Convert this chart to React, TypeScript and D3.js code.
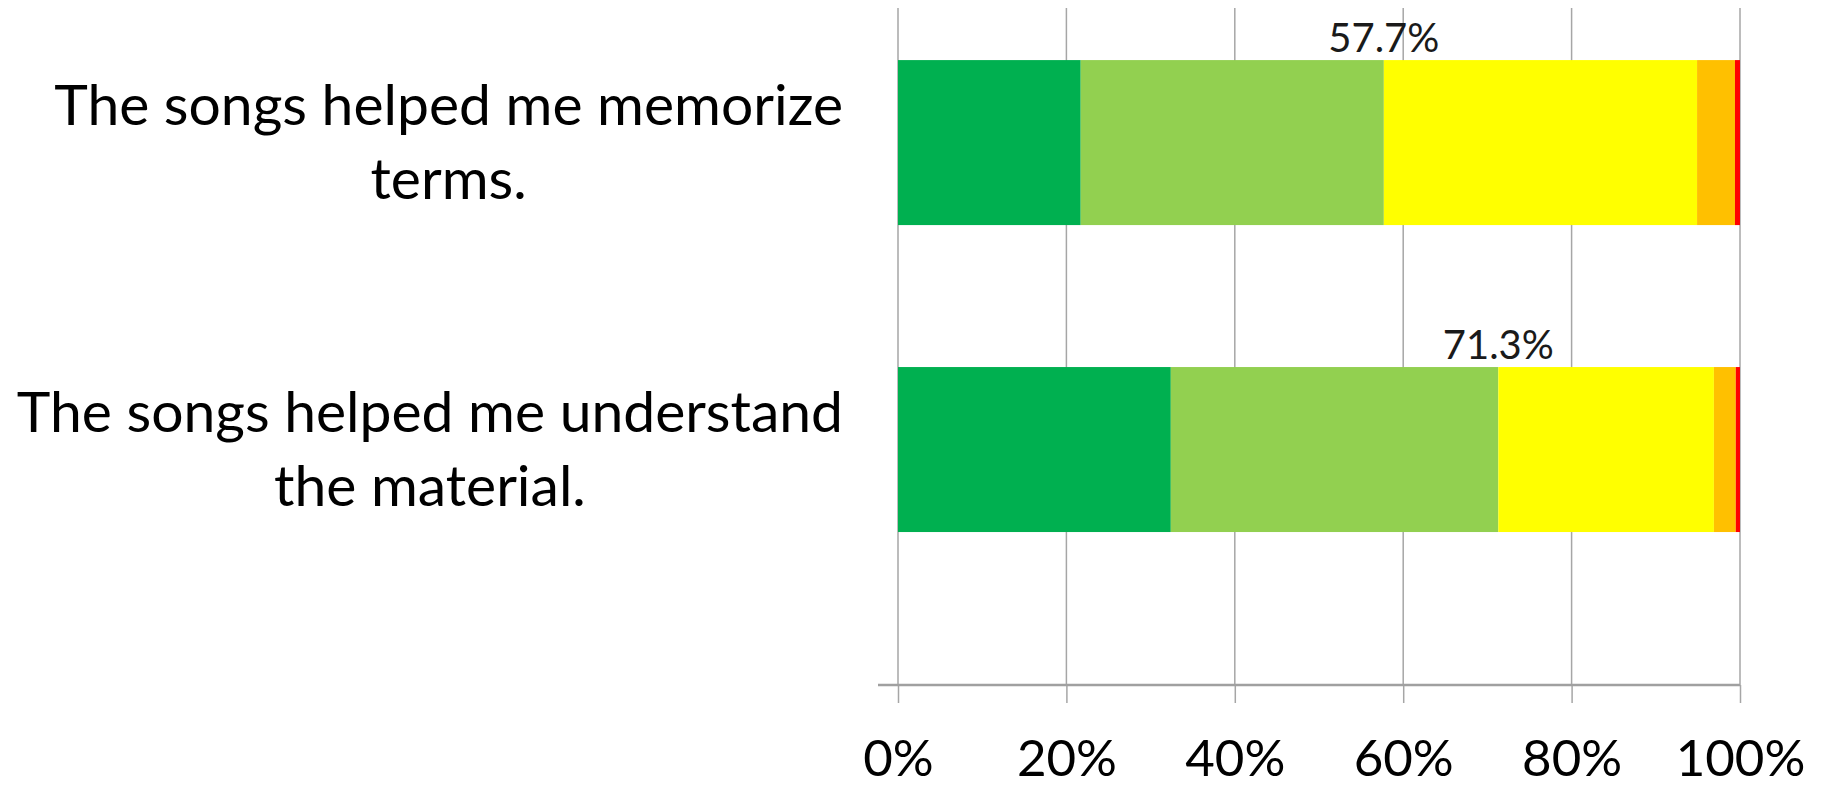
import { useEffect, useRef } from 'react';
import * as d3 from 'd3';

// survey statements (label lines)
const questions = [
  ['The songs helped me memorize', 'terms.'],
  ['The songs helped me understand', 'the material.'],
];
const questionKeys = ['memorize', 'understand'];

// response categories, left to right
const responses = ['Strongly agree', 'Agree', 'Neutral', 'Disagree', 'Strongly disagree'];
const responseColors = ['#00B050', '#92D050', '#FFFF00', '#FFC000', '#FF0000'];

// percentages per statement
const memorizeValues = [21.7, 36.0, 37.2, 4.5, 0.6];
const understandValues = [32.4, 38.9, 25.6, 2.6, 0.5];

// agree totals shown above the bars
const agreeLabels = ['57.7%', '71.3%'];

const xTicks = [0, 20, 40, 60, 80, 100];

export default function App() {
  const svgRef = useRef<SVGSVGElement>(null);

  useEffect(() => {
    if (!svgRef.current) return;

    const width = 1826;
    const height = 787;
    const plot = { left: 898, right: 1740, top: 8, bottom: 685 };

    const svg = d3.select(svgRef.current);
    svg.selectAll('*').remove();

    const rows = [memorizeValues, understandValues].map((vals, i) => {
      const row: any = { key: questionKeys[i] };
      responses.forEach((r, j) => (row[r] = vals[j]));
      return row;
    });

    const stacked = d3.stack().keys(responses)(rows);

    const x = d3.scaleLinear().domain([0, 100]).range([plot.left, plot.right]);

    const y = d3
      .scaleBand()
      .domain(questionKeys)
      .range([plot.top, plot.bottom])
      .paddingInner(0.4625)
      .paddingOuter(0.334)
      .align(0.254);

    // vertical gridlines
    svg
      .append('g')
      .selectAll('line')
      .data(xTicks)
      .enter()
      .append('line')
      .attr('x1', (d) => x(d))
      .attr('x2', (d) => x(d))
      .attr('y1', plot.top)
      .attr('y2', plot.bottom)
      .attr('stroke', '#a6a6a6')
      .attr('stroke-width', 1.5);

    // stacked bars
    svg
      .append('g')
      .selectAll('g')
      .data(stacked)
      .enter()
      .append('g')
      .attr('fill', (_, i) => responseColors[i])
      .selectAll('rect')
      .data((d) => d)
      .enter()
      .append('rect')
      .attr('x', (d) => x(d[0]))
      .attr('y', (d) => y((d.data as any).key)!)
      .attr('width', (d) => x(d[1]) - x(d[0]))
      .attr('height', y.bandwidth());

    // agree total labels at end of the "Agree" segment
    const agreeSeries = stacked[1];
    svg
      .append('g')
      .selectAll('text')
      .data(agreeSeries)
      .enter()
      .append('text')
      .attr('x', (d) => x(d[1]))
      .attr('y', (d) => y((d.data as any).key)! - 8)
      .attr('text-anchor', 'middle')
      .attr('font-family', 'Lato, sans-serif')
      .attr('font-size', 40)
      .attr('fill', '#1a1a1a')
      .text((_, i) => agreeLabels[i]);

    // x axis
    const axisG = svg
      .append('g')
      .attr('transform', `translate(0, ${plot.bottom})`)
      .call(
        d3
          .axisBottom(x)
          .tickValues(xTicks)
          .tickSize(18)
          .tickFormat((d) => `${d}%`)
      );
    axisG.select('.domain').remove();
    axisG.selectAll('.tick line').attr('stroke', '#a6a6a6').attr('stroke-width', 1.5);
    axisG
      .selectAll('.tick text')
      .attr('y', 91)
      .attr('dy', 0)
      .attr('font-family', 'Lato, sans-serif')
      .attr('font-size', 51)
      .attr('fill', '#000');

    svg
      .append('line')
      .attr('x1', plot.left - 20)
      .attr('x2', plot.right)
      .attr('y1', plot.bottom)
      .attr('y2', plot.bottom)
      .attr('stroke', '#a0a0a0')
      .attr('stroke-width', 2.5);

    // category labels, each block right aligned with lines centered
    const labelRight = 843;
    questions.forEach((lines, i) => {
      const cy = y(questionKeys[i])! + y.bandwidth() / 2;
      const g = svg.append('g');
      const texts = g
        .selectAll('text')
        .data(lines)
        .enter()
        .append('text')
        .attr('y', (_, k) => cy - 18 + k * 74)
        .attr('text-anchor', 'middle')
        .attr('font-family', 'Lato, sans-serif')
        .attr('font-size', 57)
        .attr('fill', '#000')
        .text((d) => d);
      let maxW = 0;
      texts.each(function () {
        maxW = Math.max(maxW, (this as SVGTextElement).getComputedTextLength());
      });
      texts.attr('x', labelRight - maxW / 2);
    });

    svg.attr('width', width).attr('height', height);
  }, []);

  return (
    <svg
      ref={svgRef}
      width={1826}
      height={787}
      style={{ position: 'absolute', left: 0, top: 0, background: '#fff' }}
    ></svg>
  );
}
